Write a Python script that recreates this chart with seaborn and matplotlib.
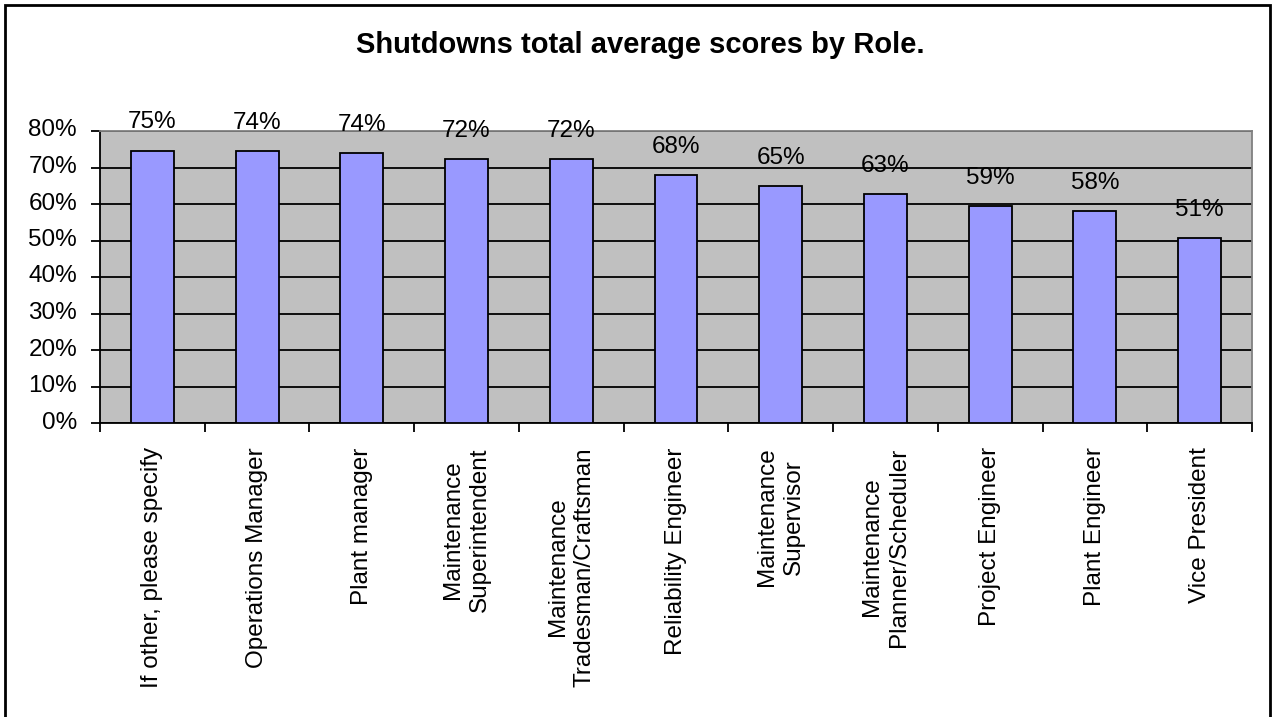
import matplotlib
matplotlib.use("Agg")
import matplotlib.pyplot as plt
import matplotlib.transforms as mtransforms
import seaborn as sns
import pandas as pd
from matplotlib.patches import Rectangle

roles = [
    "If other, please specify",
    "Operations Manager",
    "Plant manager",
    "Maintenance\nSuperintendent",
    "Maintenance\nTradesman/Craftsman",
    "Reliability Engineer",
    "Maintenance\nSupervisor",
    "Maintenance\nPlanner/Scheduler",
    "Project Engineer",
    "Plant Engineer",
    "Vice President",
]
scores = [0.746, 0.744, 0.740, 0.724, 0.723, 0.679, 0.649, 0.627, 0.594, 0.581, 0.506]
y_ticks = [0.0, 0.1, 0.2, 0.3, 0.4, 0.5, 0.6, 0.7, 0.8]
y_tick_labels = ["0%", "10%", "20%", "30%", "40%", "50%", "60%", "70%", "80%"]
title = "Shutdowns total average scores by Role."

df = pd.DataFrame({"role": roles, "score": scores})

sns.set_theme(style="white")
plt.rcParams["font.family"] = ["Liberation Sans", "DejaVu Sans"]

FS = 17.5
W, H = 1272, 717
fig = plt.figure(figsize=(W / 100, H / 100), dpi=100)
ax = fig.add_axes([100 / W, 1 - 423 / H, 1152 / W, 292 / H])
ax.set_facecolor("#C0C0C0")

sns.barplot(data=df, x="role", y="score", ax=ax, color="#9999FF",
            saturation=1, width=0.41, edgecolor="black", linewidth=1.3, zorder=3)

ax.set_ylim(0, 0.8)
ax.set_xlim(-0.5, len(roles) - 0.5)
ax.set_yticks(y_ticks)
ax.set_yticklabels(y_tick_labels, fontsize=FS, color="black")
ax.yaxis.grid(True, color="black", linewidth=1.3, zorder=1)
ax.set_axisbelow(True)

ax.set_xticks([i + 0.5 for i in range(-1, len(roles))], minor=False)
ax.set_xticklabels([""] * (len(roles) + 1))
ax.set_xticks(range(len(roles)), minor=True)
ax.set_xticklabels(roles, minor=True, rotation=90, fontsize=FS,
                   va="top", ha="center", multialignment="center",
                   color="black", linespacing=1.3)
ax.tick_params(axis="x", which="major", direction="out", length=6.5, width=1.3,
               color="black", bottom=True)
ax.tick_params(axis="x", which="minor", length=0, pad=17.5)
ax.tick_params(axis="y", direction="out", length=6.5, width=1.3, color="black",
               left=True, pad=10)
ax.set_xlabel("")
ax.set_ylabel("")

shift = mtransforms.ScaledTranslation(0, 3 / 100, fig.dpi_scale_trans)
for lbl in ax.get_yticklabels():
    lbl.set_transform(lbl.get_transform() + shift)

for side in ["left", "bottom"]:
    ax.spines[side].set_color("black")
    ax.spines[side].set_linewidth(1.3)
for side in ["top", "right"]:
    ax.spines[side].set_visible(True)
    ax.spines[side].set_color("#808080")
    ax.spines[side].set_linewidth(1.3)

for i, v in enumerate(scores):
    ax.annotate(f"{round(v * 100):d}%", xy=(i, v), xytext=(0, 16),
                textcoords="offset points", ha="center", va="baseline",
                fontsize=FS, color="black", annotation_clip=False, zorder=4)

fig.text(640 / W, 1 - 53 / H, title, ha="center", va="baseline",
         fontsize=21, fontweight="bold", color="black")

fig.patches.append(Rectangle((5 / W, -0.01), 1265 / W, 1 - 5 / H + 0.01,
                             transform=fig.transFigure, fill=False,
                             edgecolor="black", linewidth=2))

fig.savefig("out.png", dpi=100, facecolor="white")
